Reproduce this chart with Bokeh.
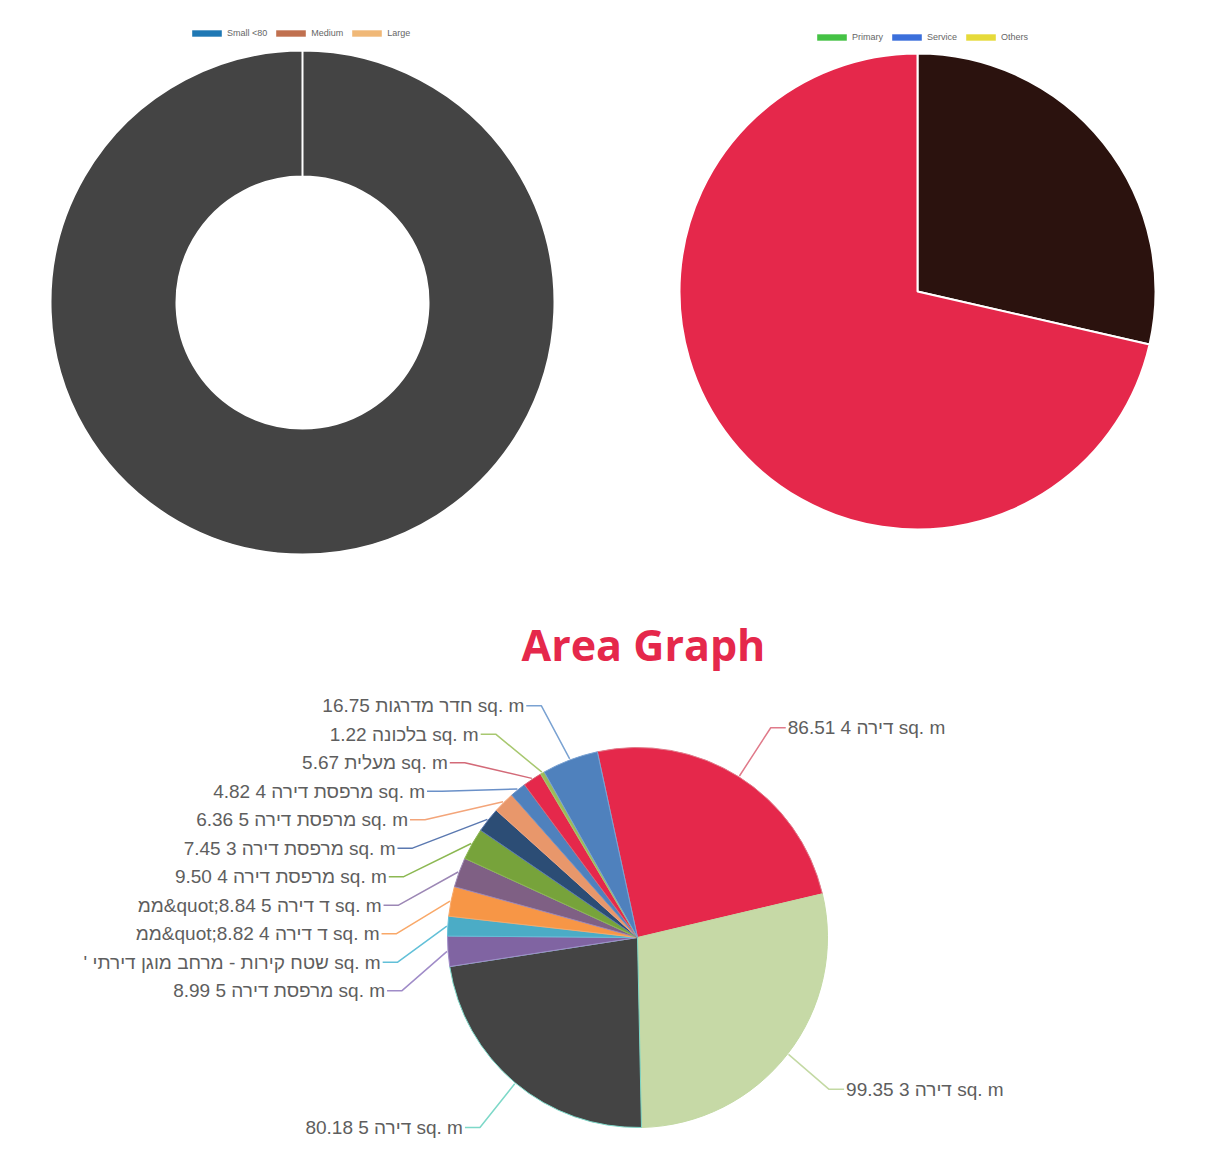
import math
from bokeh.plotting import figure
from bokeh.layouts import column, row
from bokeh.models import ColumnDataSource, Range1d, Legend, LegendItem
from bokeh.core.properties import value
from bokeh.embed import file_html
from bokeh.resources import INLINE

# ---------------- data ----------------
size_categories = ["Small <80", "Medium", "Large"]
size_colors = ["#1f78b4", "#c0704f", "#f0b877"]
donut_series = ["Total"]
donut_values = [100]
donut_colors = ["#444444"]

type_categories = ["Primary", "Service", "Others"]
type_colors = ["#45c245", "#3b6fdb", "#e6da3a"]
pie_series = ["Group 1", "Group 2"]
pie_values = [2, 5]
pie_colors = ["#2b120e", "#e5284b"]

area_labels = [
    "86.51 4 דירה sq. m",
    "99.35 3 דירה sq. m",
    "80.18 5 דירה sq. m",
    "8.99 5 מרפסת דירה sq. m",
    "' שטח קירות - מרחב מוגן דירתי sq. m",
    "ממ&quot;8.82 4 ד דירה sq. m",
    "ממ&quot;8.84 5 ד דירה sq. m",
    "9.50 4 מרפסת דירה sq. m",
    "7.45 3 מרפסת דירה sq. m",
    "6.36 5 מרפסת דירה sq. m",
    "4.82 4 מרפסת דירה sq. m",
    "5.67 מעלית sq. m",
    "1.22 בלכונה sq. m",
    "16.75 חדר מדרגות sq. m",
]
area_values = [86.51, 99.35, 80.18, 8.99, 5.85, 8.82, 8.84, 9.50, 7.45, 6.36, 4.82, 5.67, 1.22, 16.75]
area_colors = ["#e5284b", "#c6d9a6", "#444444", "#8064a2", "#4bacc6", "#f79646", "#7f6084",
               "#77a33b", "#2c4d75", "#e8976b", "#4f81bd", "#e5284b", "#9bbb59", "#4f81bd"]
connector_colors = ["#e07a8a", "#c3d9a3", "#7dd8c8", "#a08cc8", "#62c0d8", "#f9a868", "#9c87b5",
                    "#8cb852", "#5a78b0", "#f3a57a", "#6a90c8", "#d36a78", "#a8c870", "#7aa2d2"]

# ---------------- layout constants ----------------
W, H = 1214, 1174
TOP_H = 590
TITLE_H = 90
BOTTOM_FRAME_H = H - TOP_H - TITLE_H


def Y(y_ref):
    return H - y_ref


def slices(values, start_deg=0.0, eps=0.0):
    tot = float(sum(values))
    out = []
    cum = 0.0
    for v in values:
        t0 = start_deg + cum / tot * 360.0
        cum += v
        t1 = start_deg + cum / tot * 360.0 - eps
        out.append((t0, t1))
    return out


def base_fig(width, height, xr, yr):
    p = figure(width=width, height=height, x_range=Range1d(*xr), y_range=Range1d(*yr),
               output_backend="svg", toolbar_location=None, x_axis_type=None, y_axis_type=None,
               min_border=0)
    p.grid.visible = False
    p.outline_line_color = None
    p.background_fill_color = "white"
    p.border_fill_color = "white"
    return p


def add_legend(p, names, colors, loc):
    items = []
    for n, c in zip(names, colors):
        r = p.rect(x=[math.nan], y=[math.nan], width=1, height=1, fill_color=c, line_color=None)
        items.append(LegendItem(label=n, renderers=[r]))
    leg = Legend(items=items, location=loc, orientation="horizontal", glyph_width=37, glyph_height=8,
                 label_text_font_size="9px", label_text_font="Liberation Sans", label_standoff=2,
                 spacing=5, padding=0, margin=0, border_line_color=None, background_fill_alpha=0,
                 label_height=8, label_text_color="#666666")
    p.add_layout(leg, "center")


# ---------------- chart 1: donut ----------------
p1 = base_fig(607, TOP_H, (0, 607), (H - TOP_H, H))
cx1, cy1 = 302, Y(302)
s1 = slices(donut_values, 0.0, eps=1e-4)
src1 = ColumnDataSource(dict(
    name=donut_series,
    start=[math.radians(90 - t1) for t0, t1 in s1],
    end=[math.radians(90 - t0) for t0, t1 in s1],
    color=donut_colors,
))
p1.annular_wedge(x=cx1, y=cy1, inner_radius=126, outer_radius=252, start_angle="start", end_angle="end",
                 fill_color="color", line_color="white", line_width=2, source=src1)
add_legend(p1, size_categories, size_colors, (188, TOP_H - 38))

# ---------------- chart 2: pie ----------------
p2 = base_fig(607, TOP_H, (607, 1214), (H - TOP_H, H))
cx2, cy2 = 917, Y(291)
s2 = slices(pie_values, 0.0)
src2 = ColumnDataSource(dict(
    name=pie_series,
    start=[math.radians(90 - t1) for t0, t1 in s2],
    end=[math.radians(90 - t0) for t0, t1 in s2],
    color=pie_colors,
))
p2.wedge(x=cx2, y=cy2, radius=238, start_angle="start", end_angle="end",
         fill_color="color", line_color="white", line_width=2, source=src2)
add_legend(p2, type_categories, type_colors, (813 - 607, TOP_H - 42))

# ---------------- chart 3: area pie ----------------
p3 = figure(frame_width=W, frame_height=BOTTOM_FRAME_H, x_range=Range1d(0, W), y_range=Range1d(0, BOTTOM_FRAME_H),
            output_backend="svg", toolbar_location=None, x_axis_type=None, y_axis_type=None,
            min_border=0, min_border_top=TITLE_H, title="Area Graph")
p3.grid.visible = False
p3.outline_line_color = None
p3.title.align = "left"
p3.title.offset = 521
p3.title.text_font = "Open Sans"
p3.title.text_font_style = "bold"
p3.title.text_font_size = "43px"
p3.title.text_color = "#e5284b"
p3.title.standoff = 14

cx3, cy3_ref, r3 = 637, 937, 190
cy3 = Y(cy3_ref)
START_DEG = -12.2
s3 = slices(area_values, START_DEG)
src3 = ColumnDataSource(dict(
    label=area_labels,
    start=[math.radians(90 - t1) for t0, t1 in s3],
    end=[math.radians(90 - t0) for t0, t1 in s3],
    color=area_colors,
    lc=connector_colors,
))
p3.wedge(x=cx3, y=cy3, radius=r3, start_angle="start", end_angle="end",
         fill_color="color", line_color="lc", line_width=1, source=src3)

# label placement (pushed apart vertically, placed on a circle round the pie)
RN, RT, GAP, ELBOW = 248, 258, 28.5, 15
info = []
for i, (t0, t1) in enumerate(s3):
    mid = math.radians((t0 + t1) / 2.0)
    ex = cx3 + (r3 + 1) * math.sin(mid)
    ey = cy3_ref - (r3 + 1) * math.cos(mid)
    nat = cy3_ref - RN * math.cos(mid)
    side = "L" if math.sin(mid) < 0 else "R"
    info.append(dict(i=i, ex=ex, ey=ey, nat=nat, side=side))

for side in ("L", "R"):
    grp = sorted([d for d in info if d["side"] == side], key=lambda d: d["nat"])
    prev = None
    for d in grp:
        y = d["nat"] if prev is None else max(d["nat"], prev + GAP)
        d["ly"] = y
        prev = y

tx, ty, tt, ta = [], [], [], []
lxs, lys, lcs = [], [], []
for d in info:
    i = d["i"]
    dy = d["ly"] - cy3_ref
    dx = math.sqrt(max(RT * RT - dy * dy, 0.0))
    if d["side"] == "L":
        xe = cx3 - dx
        tx.append(xe)
        ta.append("right")
        xs = [xe + 2, xe + 2 + ELBOW, d["ex"]]
    else:
        xe = cx3 + dx
        tx.append(xe)
        ta.append("left")
        xs = [xe - 2, xe - 2 - ELBOW, d["ex"]]
    ty.append(Y(d["ly"]))
    tt.append(area_labels[i])
    lxs.append(xs)
    lys.append([Y(d["ly"]), Y(d["ly"]), Y(d["ey"])])
    lcs.append(connector_colors[i])

p3.multi_line(xs="xs", ys="ys", line_color="c", line_width=1.5,
              source=ColumnDataSource(dict(xs=lxs, ys=lys, c=lcs)))
p3.text(x="x", y="y", text="t", text_align="a", text_baseline="middle",
        text_font=value("Liberation Sans"), text_font_size="19px", text_color="#5e5e5e",
        source=ColumnDataSource(dict(x=tx, y=ty, t=tt, a=ta)))

layout = column(row(p1, p2), p3)
open("out.html", "w").write(file_html(layout, INLINE))
